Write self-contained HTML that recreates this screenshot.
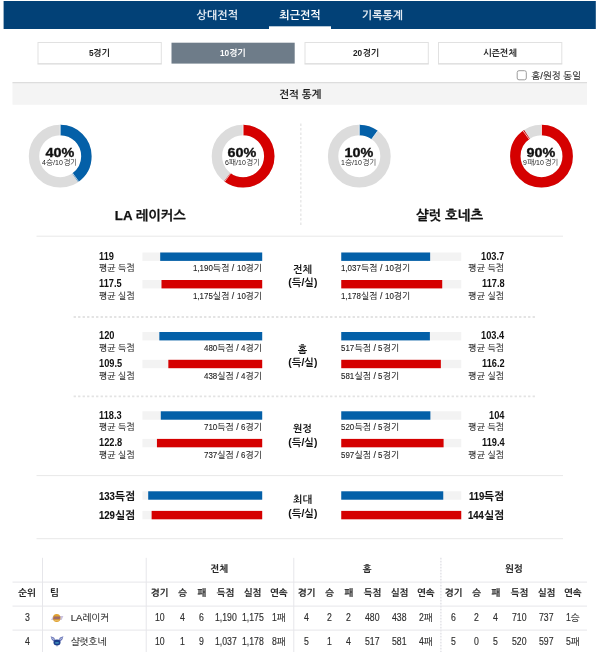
<!DOCTYPE html>
<html lang="ko"><head><meta charset="utf-8"><title>전적 통계</title>
<style>html,body{margin:0;padding:0;background:#fff;}body{width:600px;height:652px;position:relative;overflow:hidden;font-family:"Liberation Sans","NanumGothic","Noto Sans CJK KR",sans-serif;}#shapes{position:absolute;left:0;top:0;}.t{position:absolute;white-space:nowrap;box-sizing:border-box;}.n{display:inline-block;transform-origin:0 50%;}</style>
</head><body>
<svg id="shapes" width="600" height="652" viewBox="0 0 600 652">
<rect x="3.6" y="1" width="592.2" height="28" fill="#024177" />
<rect x="269" y="26.3" width="62" height="2.7" fill="#ffffff" />
<rect x="38" y="42.5" width="123.3" height="21.2" fill="#fff" stroke="#e1e1e1" stroke-width="1"/>
<rect x="37.5" y="63.6" width="124.3" height="0.8" fill="#dadada" />
<rect x="171.5" y="42.7" width="123.2" height="20.9" fill="#6e7c89" />
<rect x="305" y="42.5" width="123.3" height="21.2" fill="#fff" stroke="#e1e1e1" stroke-width="1"/>
<rect x="304.5" y="63.6" width="124.3" height="0.8" fill="#dadada" />
<rect x="438.5" y="42.5" width="123.3" height="21.2" fill="#fff" stroke="#e1e1e1" stroke-width="1"/>
<rect x="438" y="63.6" width="124.3" height="0.8" fill="#dadada" />
<rect x="517.2" y="70.7" width="9.1" height="9.1" fill="#fff" stroke="#9c9c9c" stroke-width="1" rx="1.8"/>
<rect x="12.5" y="82.3" width="574.5" height="22.5" fill="#f4f4f4" />
<rect x="12.5" y="82.2" width="574.5" height="1" fill="#d6d6d6" />
<g transform="translate(60.2 156.2)"><circle r="26.2" fill="none" stroke="#dcdcdc" stroke-width="10.4"/><circle r="26.2" fill="none" stroke="#0460a8" stroke-width="10.4" stroke-dasharray="65.85 164.62" transform="rotate(-90)"/><path d="M0 -20.7 L0 -31.7 M12.17 16.75 L18.63 25.65" stroke="#fff" stroke-width="0.7" fill="none"/></g>
<g transform="translate(243.1 156.2)"><circle r="26.2" fill="none" stroke="#dcdcdc" stroke-width="10.4"/><circle r="26.2" fill="none" stroke="#d50000" stroke-width="10.4" stroke-dasharray="98.77 164.62" transform="rotate(-90)"/><path d="M0 -20.7 L0 -31.7 M-12.17 16.75 L-18.63 25.65" stroke="#fff" stroke-width="0.7" fill="none"/></g>
<g transform="translate(359.3 156.2)"><circle r="26.2" fill="none" stroke="#dcdcdc" stroke-width="10.4"/><circle r="26.2" fill="none" stroke="#0460a8" stroke-width="10.4" stroke-dasharray="16.46 164.62" transform="rotate(-90)"/><path d="M0 -20.7 L0 -31.7 M12.17 -16.75 L18.63 -25.65" stroke="#fff" stroke-width="0.7" fill="none"/></g>
<g transform="translate(541.5 156.2)"><circle r="26.2" fill="none" stroke="#dcdcdc" stroke-width="10.4"/><circle r="26.2" fill="none" stroke="#d50000" stroke-width="10.4" stroke-dasharray="148.16 164.62" transform="rotate(-90)"/><path d="M0 -20.7 L0 -31.7 M-12.17 -16.75 L-18.63 -25.65" stroke="#fff" stroke-width="0.7" fill="none"/></g>
<line x1="300.8" y1="123.6" x2="300.8" y2="225" stroke="#e8e8e8" stroke-width="1.5" stroke-dasharray="2.3 2.2"/>
<rect x="36.5" y="235.7" width="526.5" height="1" fill="#e8e8e8" />
<rect x="36.5" y="475.1" width="526.5" height="1" fill="#e8e8e8" />
<rect x="36.5" y="538.2" width="526.5" height="1" fill="#e8e8e8" />
<line x1="73.6" y1="317.0" x2="536" y2="317.0" stroke="#e3e3e3" stroke-width="1.8" stroke-dasharray="2.3 2.2"/>
<line x1="73.6" y1="396.3" x2="536" y2="396.3" stroke="#e3e3e3" stroke-width="1.8" stroke-dasharray="2.3 2.2"/>
<rect x="142.4" y="252.5" width="119.8" height="8.4" fill="#f3f3f3" />
<rect x="160.2" y="252.5" width="102" height="8.4" fill="#0460a8" />
<rect x="142.4" y="280" width="119.8" height="8.4" fill="#f3f3f3" />
<rect x="161.49" y="280" width="100.71" height="8.4" fill="#d50000" />
<rect x="341.25" y="252.5" width="120" height="8.4" fill="#f3f3f3" />
<rect x="341.25" y="252.5" width="88.89" height="8.4" fill="#0460a8" />
<rect x="341.25" y="280" width="120" height="8.4" fill="#f3f3f3" />
<rect x="341.25" y="280" width="100.97" height="8.4" fill="#d50000" />
<rect x="142.4" y="332" width="119.8" height="8.4" fill="#f3f3f3" />
<rect x="159.34" y="332" width="102.86" height="8.4" fill="#0460a8" />
<rect x="142.4" y="359.8" width="119.8" height="8.4" fill="#f3f3f3" />
<rect x="168.34" y="359.8" width="93.86" height="8.4" fill="#d50000" />
<rect x="341.25" y="332" width="120" height="8.4" fill="#f3f3f3" />
<rect x="341.25" y="332" width="88.63" height="8.4" fill="#0460a8" />
<rect x="341.25" y="359.8" width="120" height="8.4" fill="#f3f3f3" />
<rect x="341.25" y="359.8" width="99.6" height="8.4" fill="#d50000" />
<rect x="142.4" y="411.3" width="119.8" height="8.4" fill="#f3f3f3" />
<rect x="160.8" y="411.3" width="101.4" height="8.4" fill="#0460a8" />
<rect x="142.4" y="438.9" width="119.8" height="8.4" fill="#f3f3f3" />
<rect x="156.94" y="438.9" width="105.26" height="8.4" fill="#d50000" />
<rect x="341.25" y="411.3" width="120" height="8.4" fill="#f3f3f3" />
<rect x="341.25" y="411.3" width="89.14" height="8.4" fill="#0460a8" />
<rect x="341.25" y="438.9" width="120" height="8.4" fill="#f3f3f3" />
<rect x="341.25" y="438.9" width="102.34" height="8.4" fill="#d50000" />
<rect x="142.4" y="491.3" width="119.8" height="8.4" fill="#f3f3f3" />
<rect x="148.2" y="491.3" width="114" height="8.4" fill="#0460a8" />
<rect x="341.25" y="491.3" width="120" height="8.4" fill="#f3f3f3" />
<rect x="341.25" y="491.3" width="102" height="8.4" fill="#0460a8" />
<rect x="142.4" y="510.9" width="119.8" height="8.4" fill="#f3f3f3" />
<rect x="151.63" y="510.9" width="110.57" height="8.4" fill="#d50000" />
<rect x="341.25" y="510.9" width="120" height="8.4" fill="#f3f3f3" />
<rect x="341.25" y="510.9" width="120" height="8.4" fill="#d50000" />
<rect x="42" y="557.8" width="1" height="95" fill="#e6e6ea" />
<rect x="145.7" y="557.8" width="1" height="95" fill="#e6e6ea" />
<rect x="293.3" y="557.8" width="1" height="95" fill="#e6e6ea" />
<line x1="440.9" y1="557.8" x2="440.9" y2="652" stroke="#dcdce2" stroke-width="1.2" stroke-dasharray="1.6 1.4"/>
<rect x="12.5" y="581.6" width="574.5" height="1" fill="#e6e6ea" />
<rect x="12.5" y="605.6" width="574.5" height="1" fill="#e6e6ea" />
<rect x="12.5" y="629.6" width="574.5" height="1" fill="#e6e6ea" />
<g transform="translate(49 611)"><path d="M2.0 9.0 L4.2 5.0 L14.4 5.0 L12.6 9.0 Z" fill="#8a78b8" opacity="0.45"/><ellipse cx="7.7" cy="6.9" rx="3.75" ry="4.0" fill="#e0a230"/><path d="M4.1 8.3 L4.9 5.6 L11.3 5.6 L10.7 8.3 Z" fill="#6a3f9a" opacity="0.55"/><path d="M5.4 9.6 L9.8 9.6" stroke="#f3d9a0" stroke-width="0.7" opacity="0.7"/></g>
<g transform="translate(49 634)"><path d="M1.6 2.2 L5.0 3.6 L6.6 6.2 L4.6 7.6 L2.6 5.6 Z" fill="#4a55a8" opacity="0.8"/><path d="M14.4 2.2 L11.0 3.6 L9.4 6.2 L11.4 7.6 L13.4 5.6 Z" fill="#4a55a8" opacity="0.8"/><path d="M3.0 3.7 L5.2 5.9" stroke="#d5e6f2" stroke-width="0.9" opacity="0.9"/><path d="M13.0 3.7 L10.8 5.9" stroke="#d5e6f2" stroke-width="0.9" opacity="0.9"/><ellipse cx="8" cy="8.4" rx="3.5" ry="2.9" fill="#1c3d8c"/><ellipse cx="8" cy="8.9" rx="2.2" ry="0.8" fill="#4fb0cc" opacity="0.7"/><path d="M7.3 11.1 L8.7 11.1 L8 12.9 Z" fill="#2a3f86" opacity="0.7"/></g>
</svg>
<div class="t" style="top:8.3px;height:15.4px;line-height:15.4px;font-size:11px;color:#e4ebf3;font-weight:bold;left:67.3px;width:300px;text-align:center;">상대전적</div>
<div class="t" style="top:8.3px;height:15.4px;line-height:15.4px;font-size:11px;color:#ffffff;font-weight:bold;left:150px;width:300px;text-align:center;">최근전적</div>
<div class="t" style="top:8.3px;height:15.4px;line-height:15.4px;font-size:11px;color:#e4ebf3;font-weight:bold;left:232.5px;width:300px;text-align:center;">기록통계</div>
<div class="t" style="top:46.9px;height:12.6px;line-height:12.6px;font-size:9px;color:#222;font-weight:bold;left:-50.5px;width:300px;text-align:center;"><span class="n" style="transform:scaleX(0.92);margin-right:-0.4px">5</span>경기</div>
<div class="t" style="top:46.9px;height:12.6px;line-height:12.6px;font-size:9px;color:#fff;font-weight:bold;left:83px;width:300px;text-align:center;"><span class="n" style="transform:scaleX(0.92);margin-right:-0.8px">10</span>경기</div>
<div class="t" style="top:46.9px;height:12.6px;line-height:12.6px;font-size:9px;color:#222;font-weight:bold;left:216.5px;width:300px;text-align:center;"><span class="n" style="transform:scaleX(0.92);margin-right:-0.8px">20</span>경기</div>
<div class="t" style="top:46.9px;height:12.6px;line-height:12.6px;font-size:9px;color:#222;font-weight:bold;left:350px;width:300px;text-align:center;">시즌전체</div>
<div class="t" style="top:68.72px;height:13.16px;line-height:13.16px;font-size:9.4px;color:#2a2a2a;left:531.5px;-webkit-text-stroke:0.15px #2a2a2a;">홈/원정 동일</div>
<div class="t" style="top:87.15px;height:14.7px;line-height:14.7px;font-size:10.5px;color:#1c1c1c;font-weight:bold;left:150.2px;width:300px;text-align:center;">전적 통계</div>
<div class="t" style="top:145.1px;height:16.8px;line-height:16.8px;font-size:12px;color:#111;font-weight:bold;left:-90.5px;width:300px;text-align:center;transform:scaleX(1.2);-webkit-text-stroke:0.3px #111;">40%</div>
<div class="t" style="top:158.48px;height:10.64px;line-height:10.64px;font-size:7.6px;color:#222;left:-90.4px;width:300px;text-align:center;"><span class="n" style="transform:scaleX(0.92);margin-right:-0.34px">4</span>승/<span class="n" style="transform:scaleX(0.92);margin-right:-0.68px">10</span>경기</div>
<div class="t" style="top:145.1px;height:16.8px;line-height:16.8px;font-size:12px;color:#111;font-weight:bold;left:92.4px;width:300px;text-align:center;transform:scaleX(1.2);-webkit-text-stroke:0.3px #111;">60%</div>
<div class="t" style="top:158.48px;height:10.64px;line-height:10.64px;font-size:7.6px;color:#222;left:92.5px;width:300px;text-align:center;"><span class="n" style="transform:scaleX(0.92);margin-right:-0.34px">6</span>패/<span class="n" style="transform:scaleX(0.92);margin-right:-0.68px">10</span>경기</div>
<div class="t" style="top:145.1px;height:16.8px;line-height:16.8px;font-size:12px;color:#111;font-weight:bold;left:208.6px;width:300px;text-align:center;transform:scaleX(1.2);-webkit-text-stroke:0.3px #111;">10%</div>
<div class="t" style="top:158.48px;height:10.64px;line-height:10.64px;font-size:7.6px;color:#222;left:208.7px;width:300px;text-align:center;"><span class="n" style="transform:scaleX(0.92);margin-right:-0.34px">1</span>승/<span class="n" style="transform:scaleX(0.92);margin-right:-0.68px">10</span>경기</div>
<div class="t" style="top:145.1px;height:16.8px;line-height:16.8px;font-size:12px;color:#111;font-weight:bold;left:390.8px;width:300px;text-align:center;transform:scaleX(1.2);-webkit-text-stroke:0.3px #111;">90%</div>
<div class="t" style="top:158.48px;height:10.64px;line-height:10.64px;font-size:7.6px;color:#222;left:390.9px;width:300px;text-align:center;"><span class="n" style="transform:scaleX(0.92);margin-right:-0.34px">9</span>패/<span class="n" style="transform:scaleX(0.92);margin-right:-0.68px">10</span>경기</div>
<div class="t" style="top:207.09px;height:18.62px;line-height:18.62px;font-size:13.3px;color:#111;font-weight:bold;left:0.3px;width:300px;text-align:center;-webkit-text-stroke:0.25px #111;">LA 레이커스</div>
<div class="t" style="top:206.95px;height:18.9px;line-height:18.9px;font-size:13.5px;color:#111;font-weight:bold;left:299.5px;width:300px;text-align:center;-webkit-text-stroke:0.25px #111;">샬럿 호네츠</div>
<div class="t" style="top:249.72px;height:14.56px;line-height:14.56px;font-size:10.4px;color:#111;font-weight:bold;left:98.9px;"><span class="n" style="transform:scaleX(0.89);margin-right:-1.91px">119</span></div>
<div class="t" style="top:262.27px;height:12.46px;line-height:12.46px;font-size:8.9px;color:#222;left:98.9px;-webkit-text-stroke:0.12px #222;">평균 득점</div>
<div class="t" style="top:262.34px;height:12.32px;line-height:12.32px;font-size:8.8px;color:#222;right:337.9px;text-align:right;-webkit-text-stroke:0.12px #222;"><span class="n" style="transform:scaleX(0.9);margin-right:-2.2px">1,190</span>득점 / <span class="n" style="transform:scaleX(0.9);margin-right:-0.98px">10</span>경기</div>
<div class="t" style="top:277.22px;height:14.56px;line-height:14.56px;font-size:10.4px;color:#111;font-weight:bold;left:98.9px;"><span class="n" style="transform:scaleX(0.89);margin-right:-2.86px">117.5</span></div>
<div class="t" style="top:289.77px;height:12.46px;line-height:12.46px;font-size:8.9px;color:#222;left:98.9px;-webkit-text-stroke:0.12px #222;">평균 실점</div>
<div class="t" style="top:289.84px;height:12.32px;line-height:12.32px;font-size:8.8px;color:#222;right:337.9px;text-align:right;-webkit-text-stroke:0.12px #222;"><span class="n" style="transform:scaleX(0.9);margin-right:-2.2px">1,175</span>실점 / <span class="n" style="transform:scaleX(0.9);margin-right:-0.98px">10</span>경기</div>
<div class="t" style="top:249.72px;height:14.56px;line-height:14.56px;font-size:10.4px;color:#111;font-weight:bold;right:95.7px;text-align:right;"><span class="n" style="transform:scaleX(0.89);margin-right:-2.86px">103.7</span></div>
<div class="t" style="top:262.27px;height:12.46px;line-height:12.46px;font-size:8.9px;color:#222;right:95.8px;text-align:right;-webkit-text-stroke:0.12px #222;">평균 득점</div>
<div class="t" style="top:262.34px;height:12.32px;line-height:12.32px;font-size:8.8px;color:#222;left:341.2px;-webkit-text-stroke:0.12px #222;"><span class="n" style="transform:scaleX(0.9);margin-right:-2.2px">1,037</span>득점 / <span class="n" style="transform:scaleX(0.9);margin-right:-0.98px">10</span>경기</div>
<div class="t" style="top:277.22px;height:14.56px;line-height:14.56px;font-size:10.4px;color:#111;font-weight:bold;right:95.7px;text-align:right;"><span class="n" style="transform:scaleX(0.89);margin-right:-2.86px">117.8</span></div>
<div class="t" style="top:289.77px;height:12.46px;line-height:12.46px;font-size:8.9px;color:#222;right:95.8px;text-align:right;-webkit-text-stroke:0.12px #222;">평균 실점</div>
<div class="t" style="top:289.84px;height:12.32px;line-height:12.32px;font-size:8.8px;color:#222;left:341.2px;-webkit-text-stroke:0.12px #222;"><span class="n" style="transform:scaleX(0.9);margin-right:-2.2px">1,178</span>실점 / <span class="n" style="transform:scaleX(0.9);margin-right:-0.98px">10</span>경기</div>
<div class="t" style="top:263.2px;height:14px;line-height:14px;font-size:10px;color:#111;font-weight:bold;left:152.5px;width:300px;text-align:center;">전체</div>
<div class="t" style="top:276.39px;height:14.42px;line-height:14.42px;font-size:10.3px;color:#111;font-weight:bold;left:152.9px;width:300px;text-align:center;">(득/실)</div>
<div class="t" style="top:329.22px;height:14.56px;line-height:14.56px;font-size:10.4px;color:#111;font-weight:bold;left:98.9px;"><span class="n" style="transform:scaleX(0.89);margin-right:-1.91px">120</span></div>
<div class="t" style="top:341.77px;height:12.46px;line-height:12.46px;font-size:8.9px;color:#222;left:98.9px;-webkit-text-stroke:0.12px #222;">평균 득점</div>
<div class="t" style="top:341.84px;height:12.32px;line-height:12.32px;font-size:8.8px;color:#222;right:337.9px;text-align:right;-webkit-text-stroke:0.12px #222;"><span class="n" style="transform:scaleX(0.9);margin-right:-1.47px">480</span>득점 / <span class="n" style="transform:scaleX(0.9);margin-right:-0.49px">4</span>경기</div>
<div class="t" style="top:357.02px;height:14.56px;line-height:14.56px;font-size:10.4px;color:#111;font-weight:bold;left:98.9px;"><span class="n" style="transform:scaleX(0.89);margin-right:-2.86px">109.5</span></div>
<div class="t" style="top:369.57px;height:12.46px;line-height:12.46px;font-size:8.9px;color:#222;left:98.9px;-webkit-text-stroke:0.12px #222;">평균 실점</div>
<div class="t" style="top:369.64px;height:12.32px;line-height:12.32px;font-size:8.8px;color:#222;right:337.9px;text-align:right;-webkit-text-stroke:0.12px #222;"><span class="n" style="transform:scaleX(0.9);margin-right:-1.47px">438</span>실점 / <span class="n" style="transform:scaleX(0.9);margin-right:-0.49px">4</span>경기</div>
<div class="t" style="top:329.22px;height:14.56px;line-height:14.56px;font-size:10.4px;color:#111;font-weight:bold;right:95.7px;text-align:right;"><span class="n" style="transform:scaleX(0.89);margin-right:-2.86px">103.4</span></div>
<div class="t" style="top:341.77px;height:12.46px;line-height:12.46px;font-size:8.9px;color:#222;right:95.8px;text-align:right;-webkit-text-stroke:0.12px #222;">평균 득점</div>
<div class="t" style="top:341.84px;height:12.32px;line-height:12.32px;font-size:8.8px;color:#222;left:341.2px;-webkit-text-stroke:0.12px #222;"><span class="n" style="transform:scaleX(0.9);margin-right:-1.47px">517</span>득점 / <span class="n" style="transform:scaleX(0.9);margin-right:-0.49px">5</span>경기</div>
<div class="t" style="top:357.02px;height:14.56px;line-height:14.56px;font-size:10.4px;color:#111;font-weight:bold;right:95.7px;text-align:right;"><span class="n" style="transform:scaleX(0.89);margin-right:-2.86px">116.2</span></div>
<div class="t" style="top:369.57px;height:12.46px;line-height:12.46px;font-size:8.9px;color:#222;right:95.8px;text-align:right;-webkit-text-stroke:0.12px #222;">평균 실점</div>
<div class="t" style="top:369.64px;height:12.32px;line-height:12.32px;font-size:8.8px;color:#222;left:341.2px;-webkit-text-stroke:0.12px #222;"><span class="n" style="transform:scaleX(0.9);margin-right:-1.47px">581</span>실점 / <span class="n" style="transform:scaleX(0.9);margin-right:-0.49px">5</span>경기</div>
<div class="t" style="top:343.2px;height:14px;line-height:14px;font-size:10px;color:#111;font-weight:bold;left:152.5px;width:300px;text-align:center;">홈</div>
<div class="t" style="top:356.49px;height:14.42px;line-height:14.42px;font-size:10.3px;color:#111;font-weight:bold;left:152.9px;width:300px;text-align:center;">(득/실)</div>
<div class="t" style="top:408.52px;height:14.56px;line-height:14.56px;font-size:10.4px;color:#111;font-weight:bold;left:98.9px;"><span class="n" style="transform:scaleX(0.89);margin-right:-2.86px">118.3</span></div>
<div class="t" style="top:421.07px;height:12.46px;line-height:12.46px;font-size:8.9px;color:#222;left:98.9px;-webkit-text-stroke:0.12px #222;">평균 득점</div>
<div class="t" style="top:421.14px;height:12.32px;line-height:12.32px;font-size:8.8px;color:#222;right:337.9px;text-align:right;-webkit-text-stroke:0.12px #222;"><span class="n" style="transform:scaleX(0.9);margin-right:-1.47px">710</span>득점 / <span class="n" style="transform:scaleX(0.9);margin-right:-0.49px">6</span>경기</div>
<div class="t" style="top:436.12px;height:14.56px;line-height:14.56px;font-size:10.4px;color:#111;font-weight:bold;left:98.9px;"><span class="n" style="transform:scaleX(0.89);margin-right:-2.86px">122.8</span></div>
<div class="t" style="top:448.67px;height:12.46px;line-height:12.46px;font-size:8.9px;color:#222;left:98.9px;-webkit-text-stroke:0.12px #222;">평균 실점</div>
<div class="t" style="top:448.74px;height:12.32px;line-height:12.32px;font-size:8.8px;color:#222;right:337.9px;text-align:right;-webkit-text-stroke:0.12px #222;"><span class="n" style="transform:scaleX(0.9);margin-right:-1.47px">737</span>실점 / <span class="n" style="transform:scaleX(0.9);margin-right:-0.49px">6</span>경기</div>
<div class="t" style="top:408.52px;height:14.56px;line-height:14.56px;font-size:10.4px;color:#111;font-weight:bold;right:95.7px;text-align:right;"><span class="n" style="transform:scaleX(0.89);margin-right:-1.91px">104</span></div>
<div class="t" style="top:421.07px;height:12.46px;line-height:12.46px;font-size:8.9px;color:#222;right:95.8px;text-align:right;-webkit-text-stroke:0.12px #222;">평균 득점</div>
<div class="t" style="top:421.14px;height:12.32px;line-height:12.32px;font-size:8.8px;color:#222;left:341.2px;-webkit-text-stroke:0.12px #222;"><span class="n" style="transform:scaleX(0.9);margin-right:-1.47px">520</span>득점 / <span class="n" style="transform:scaleX(0.9);margin-right:-0.49px">5</span>경기</div>
<div class="t" style="top:436.12px;height:14.56px;line-height:14.56px;font-size:10.4px;color:#111;font-weight:bold;right:95.7px;text-align:right;"><span class="n" style="transform:scaleX(0.89);margin-right:-2.86px">119.4</span></div>
<div class="t" style="top:448.67px;height:12.46px;line-height:12.46px;font-size:8.9px;color:#222;right:95.8px;text-align:right;-webkit-text-stroke:0.12px #222;">평균 실점</div>
<div class="t" style="top:448.74px;height:12.32px;line-height:12.32px;font-size:8.8px;color:#222;left:341.2px;-webkit-text-stroke:0.12px #222;"><span class="n" style="transform:scaleX(0.9);margin-right:-1.47px">597</span>실점 / <span class="n" style="transform:scaleX(0.9);margin-right:-0.49px">5</span>경기</div>
<div class="t" style="top:421.5px;height:14px;line-height:14px;font-size:10px;color:#111;font-weight:bold;left:152.5px;width:300px;text-align:center;">원정</div>
<div class="t" style="top:435.99px;height:14.42px;line-height:14.42px;font-size:10.3px;color:#111;font-weight:bold;left:152.9px;width:300px;text-align:center;">(득/실)</div>
<div class="t" style="top:488.88px;height:14.84px;line-height:14.84px;font-size:10.6px;color:#111;font-weight:bold;left:99.2px;-webkit-text-stroke:0.15px #111;"><span class="n" style="transform:scaleX(0.9);margin-right:-1.77px">133</span>득점</div>
<div class="t" style="top:488.88px;height:14.84px;line-height:14.84px;font-size:10.6px;color:#111;font-weight:bold;right:96.1px;text-align:right;-webkit-text-stroke:0.15px #111;"><span class="n" style="transform:scaleX(0.9);margin-right:-1.77px">119</span>득점</div>
<div class="t" style="top:508.48px;height:14.84px;line-height:14.84px;font-size:10.6px;color:#111;font-weight:bold;left:99.2px;-webkit-text-stroke:0.15px #111;"><span class="n" style="transform:scaleX(0.9);margin-right:-1.77px">129</span>실점</div>
<div class="t" style="top:508.48px;height:14.84px;line-height:14.84px;font-size:10.6px;color:#111;font-weight:bold;right:96.1px;text-align:right;-webkit-text-stroke:0.15px #111;"><span class="n" style="transform:scaleX(0.9);margin-right:-1.77px">144</span>실점</div>
<div class="t" style="top:493px;height:14px;line-height:14px;font-size:10px;color:#111;font-weight:bold;left:152.5px;width:300px;text-align:center;">최대</div>
<div class="t" style="top:506.99px;height:14.42px;line-height:14.42px;font-size:10.3px;color:#111;font-weight:bold;left:152.9px;width:300px;text-align:center;">(득/실)</div>
<div class="t" style="top:586.79px;height:13.02px;line-height:13.02px;font-size:9.3px;color:#262626;font-weight:bold;left:-123px;width:300px;text-align:center;-webkit-text-stroke:0.12px #262626;">순위</div>
<div class="t" style="top:586.79px;height:13.02px;line-height:13.02px;font-size:9.3px;color:#262626;font-weight:bold;left:50px;-webkit-text-stroke:0.12px #262626;">팀</div>
<div class="t" style="top:562.99px;height:13.02px;line-height:13.02px;font-size:9.3px;color:#262626;font-weight:bold;left:69.5px;width:300px;text-align:center;-webkit-text-stroke:0.12px #262626;">전체</div>
<div class="t" style="top:586.79px;height:13.02px;line-height:13.02px;font-size:9.3px;color:#262626;font-weight:bold;left:9.5px;width:300px;text-align:center;-webkit-text-stroke:0.12px #262626;">경기</div>
<div class="t" style="top:586.79px;height:13.02px;line-height:13.02px;font-size:9.3px;color:#262626;font-weight:bold;left:32.5px;width:300px;text-align:center;-webkit-text-stroke:0.12px #262626;">승</div>
<div class="t" style="top:586.79px;height:13.02px;line-height:13.02px;font-size:9.3px;color:#262626;font-weight:bold;left:51.75px;width:300px;text-align:center;-webkit-text-stroke:0.12px #262626;">패</div>
<div class="t" style="top:586.79px;height:13.02px;line-height:13.02px;font-size:9.3px;color:#262626;font-weight:bold;left:75.5px;width:300px;text-align:center;-webkit-text-stroke:0.12px #262626;">득점</div>
<div class="t" style="top:586.79px;height:13.02px;line-height:13.02px;font-size:9.3px;color:#262626;font-weight:bold;left:102.5px;width:300px;text-align:center;-webkit-text-stroke:0.12px #262626;">실점</div>
<div class="t" style="top:586.79px;height:13.02px;line-height:13.02px;font-size:9.3px;color:#262626;font-weight:bold;left:128.75px;width:300px;text-align:center;-webkit-text-stroke:0.12px #262626;">연속</div>
<div class="t" style="top:611.15px;height:13.3px;line-height:13.3px;font-size:9.5px;color:#2e2e2e;left:9.5px;width:300px;text-align:center;-webkit-text-stroke:0.15px #2e2e2e;"><span class="n" style="font-size:10.0px;transform:scaleX(0.87);margin-right:-1.45px">10</span></div>
<div class="t" style="top:611.15px;height:13.3px;line-height:13.3px;font-size:9.5px;color:#2e2e2e;left:32.5px;width:300px;text-align:center;-webkit-text-stroke:0.15px #2e2e2e;"><span class="n" style="font-size:10.0px;transform:scaleX(0.87);margin-right:-0.72px">4</span></div>
<div class="t" style="top:611.15px;height:13.3px;line-height:13.3px;font-size:9.5px;color:#2e2e2e;left:51.75px;width:300px;text-align:center;-webkit-text-stroke:0.15px #2e2e2e;"><span class="n" style="font-size:10.0px;transform:scaleX(0.87);margin-right:-0.72px">6</span></div>
<div class="t" style="top:611.15px;height:13.3px;line-height:13.3px;font-size:9.5px;color:#2e2e2e;left:75.5px;width:300px;text-align:center;-webkit-text-stroke:0.15px #2e2e2e;"><span class="n" style="font-size:10.0px;transform:scaleX(0.87);margin-right:-3.25px">1,190</span></div>
<div class="t" style="top:611.15px;height:13.3px;line-height:13.3px;font-size:9.5px;color:#2e2e2e;left:102.5px;width:300px;text-align:center;-webkit-text-stroke:0.15px #2e2e2e;"><span class="n" style="font-size:10.0px;transform:scaleX(0.87);margin-right:-3.25px">1,175</span></div>
<div class="t" style="top:611.15px;height:13.3px;line-height:13.3px;font-size:9.5px;color:#2e2e2e;left:128.75px;width:300px;text-align:center;-webkit-text-stroke:0.15px #2e2e2e;"><span class="n" style="font-size:10.0px;transform:scaleX(0.87);margin-right:-0.72px">1</span>패</div>
<div class="t" style="top:635.15px;height:13.3px;line-height:13.3px;font-size:9.5px;color:#2e2e2e;left:9.5px;width:300px;text-align:center;-webkit-text-stroke:0.15px #2e2e2e;"><span class="n" style="font-size:10.0px;transform:scaleX(0.87);margin-right:-1.45px">10</span></div>
<div class="t" style="top:635.15px;height:13.3px;line-height:13.3px;font-size:9.5px;color:#2e2e2e;left:32.5px;width:300px;text-align:center;-webkit-text-stroke:0.15px #2e2e2e;"><span class="n" style="font-size:10.0px;transform:scaleX(0.87);margin-right:-0.72px">1</span></div>
<div class="t" style="top:635.15px;height:13.3px;line-height:13.3px;font-size:9.5px;color:#2e2e2e;left:51.75px;width:300px;text-align:center;-webkit-text-stroke:0.15px #2e2e2e;"><span class="n" style="font-size:10.0px;transform:scaleX(0.87);margin-right:-0.72px">9</span></div>
<div class="t" style="top:635.15px;height:13.3px;line-height:13.3px;font-size:9.5px;color:#2e2e2e;left:75.5px;width:300px;text-align:center;-webkit-text-stroke:0.15px #2e2e2e;"><span class="n" style="font-size:10.0px;transform:scaleX(0.87);margin-right:-3.25px">1,037</span></div>
<div class="t" style="top:635.15px;height:13.3px;line-height:13.3px;font-size:9.5px;color:#2e2e2e;left:102.5px;width:300px;text-align:center;-webkit-text-stroke:0.15px #2e2e2e;"><span class="n" style="font-size:10.0px;transform:scaleX(0.87);margin-right:-3.25px">1,178</span></div>
<div class="t" style="top:635.15px;height:13.3px;line-height:13.3px;font-size:9.5px;color:#2e2e2e;left:128.75px;width:300px;text-align:center;-webkit-text-stroke:0.15px #2e2e2e;"><span class="n" style="font-size:10.0px;transform:scaleX(0.87);margin-right:-0.72px">8</span>패</div>
<div class="t" style="top:562.99px;height:13.02px;line-height:13.02px;font-size:9.3px;color:#262626;font-weight:bold;left:217px;width:300px;text-align:center;-webkit-text-stroke:0.12px #262626;">홈</div>
<div class="t" style="top:586.79px;height:13.02px;line-height:13.02px;font-size:9.3px;color:#262626;font-weight:bold;left:156.5px;width:300px;text-align:center;-webkit-text-stroke:0.12px #262626;">경기</div>
<div class="t" style="top:586.79px;height:13.02px;line-height:13.02px;font-size:9.3px;color:#262626;font-weight:bold;left:179.5px;width:300px;text-align:center;-webkit-text-stroke:0.12px #262626;">승</div>
<div class="t" style="top:586.79px;height:13.02px;line-height:13.02px;font-size:9.3px;color:#262626;font-weight:bold;left:198.75px;width:300px;text-align:center;-webkit-text-stroke:0.12px #262626;">패</div>
<div class="t" style="top:586.79px;height:13.02px;line-height:13.02px;font-size:9.3px;color:#262626;font-weight:bold;left:222.5px;width:300px;text-align:center;-webkit-text-stroke:0.12px #262626;">득점</div>
<div class="t" style="top:586.79px;height:13.02px;line-height:13.02px;font-size:9.3px;color:#262626;font-weight:bold;left:249.5px;width:300px;text-align:center;-webkit-text-stroke:0.12px #262626;">실점</div>
<div class="t" style="top:586.79px;height:13.02px;line-height:13.02px;font-size:9.3px;color:#262626;font-weight:bold;left:275.75px;width:300px;text-align:center;-webkit-text-stroke:0.12px #262626;">연속</div>
<div class="t" style="top:611.15px;height:13.3px;line-height:13.3px;font-size:9.5px;color:#2e2e2e;left:156.5px;width:300px;text-align:center;-webkit-text-stroke:0.15px #2e2e2e;"><span class="n" style="font-size:10.0px;transform:scaleX(0.87);margin-right:-0.72px">4</span></div>
<div class="t" style="top:611.15px;height:13.3px;line-height:13.3px;font-size:9.5px;color:#2e2e2e;left:179.5px;width:300px;text-align:center;-webkit-text-stroke:0.15px #2e2e2e;"><span class="n" style="font-size:10.0px;transform:scaleX(0.87);margin-right:-0.72px">2</span></div>
<div class="t" style="top:611.15px;height:13.3px;line-height:13.3px;font-size:9.5px;color:#2e2e2e;left:198.75px;width:300px;text-align:center;-webkit-text-stroke:0.15px #2e2e2e;"><span class="n" style="font-size:10.0px;transform:scaleX(0.87);margin-right:-0.72px">2</span></div>
<div class="t" style="top:611.15px;height:13.3px;line-height:13.3px;font-size:9.5px;color:#2e2e2e;left:222.5px;width:300px;text-align:center;-webkit-text-stroke:0.15px #2e2e2e;"><span class="n" style="font-size:10.0px;transform:scaleX(0.87);margin-right:-2.17px">480</span></div>
<div class="t" style="top:611.15px;height:13.3px;line-height:13.3px;font-size:9.5px;color:#2e2e2e;left:249.5px;width:300px;text-align:center;-webkit-text-stroke:0.15px #2e2e2e;"><span class="n" style="font-size:10.0px;transform:scaleX(0.87);margin-right:-2.17px">438</span></div>
<div class="t" style="top:611.15px;height:13.3px;line-height:13.3px;font-size:9.5px;color:#2e2e2e;left:275.75px;width:300px;text-align:center;-webkit-text-stroke:0.15px #2e2e2e;"><span class="n" style="font-size:10.0px;transform:scaleX(0.87);margin-right:-0.72px">2</span>패</div>
<div class="t" style="top:635.15px;height:13.3px;line-height:13.3px;font-size:9.5px;color:#2e2e2e;left:156.5px;width:300px;text-align:center;-webkit-text-stroke:0.15px #2e2e2e;"><span class="n" style="font-size:10.0px;transform:scaleX(0.87);margin-right:-0.72px">5</span></div>
<div class="t" style="top:635.15px;height:13.3px;line-height:13.3px;font-size:9.5px;color:#2e2e2e;left:179.5px;width:300px;text-align:center;-webkit-text-stroke:0.15px #2e2e2e;"><span class="n" style="font-size:10.0px;transform:scaleX(0.87);margin-right:-0.72px">1</span></div>
<div class="t" style="top:635.15px;height:13.3px;line-height:13.3px;font-size:9.5px;color:#2e2e2e;left:198.75px;width:300px;text-align:center;-webkit-text-stroke:0.15px #2e2e2e;"><span class="n" style="font-size:10.0px;transform:scaleX(0.87);margin-right:-0.72px">4</span></div>
<div class="t" style="top:635.15px;height:13.3px;line-height:13.3px;font-size:9.5px;color:#2e2e2e;left:222.5px;width:300px;text-align:center;-webkit-text-stroke:0.15px #2e2e2e;"><span class="n" style="font-size:10.0px;transform:scaleX(0.87);margin-right:-2.17px">517</span></div>
<div class="t" style="top:635.15px;height:13.3px;line-height:13.3px;font-size:9.5px;color:#2e2e2e;left:249.5px;width:300px;text-align:center;-webkit-text-stroke:0.15px #2e2e2e;"><span class="n" style="font-size:10.0px;transform:scaleX(0.87);margin-right:-2.17px">581</span></div>
<div class="t" style="top:635.15px;height:13.3px;line-height:13.3px;font-size:9.5px;color:#2e2e2e;left:275.75px;width:300px;text-align:center;-webkit-text-stroke:0.15px #2e2e2e;"><span class="n" style="font-size:10.0px;transform:scaleX(0.87);margin-right:-0.72px">4</span>패</div>
<div class="t" style="top:562.99px;height:13.02px;line-height:13.02px;font-size:9.3px;color:#262626;font-weight:bold;left:363.7px;width:300px;text-align:center;-webkit-text-stroke:0.12px #262626;">원정</div>
<div class="t" style="top:586.79px;height:13.02px;line-height:13.02px;font-size:9.3px;color:#262626;font-weight:bold;left:303.5px;width:300px;text-align:center;-webkit-text-stroke:0.12px #262626;">경기</div>
<div class="t" style="top:586.79px;height:13.02px;line-height:13.02px;font-size:9.3px;color:#262626;font-weight:bold;left:326.5px;width:300px;text-align:center;-webkit-text-stroke:0.12px #262626;">승</div>
<div class="t" style="top:586.79px;height:13.02px;line-height:13.02px;font-size:9.3px;color:#262626;font-weight:bold;left:345.75px;width:300px;text-align:center;-webkit-text-stroke:0.12px #262626;">패</div>
<div class="t" style="top:586.79px;height:13.02px;line-height:13.02px;font-size:9.3px;color:#262626;font-weight:bold;left:369.5px;width:300px;text-align:center;-webkit-text-stroke:0.12px #262626;">득점</div>
<div class="t" style="top:586.79px;height:13.02px;line-height:13.02px;font-size:9.3px;color:#262626;font-weight:bold;left:396.5px;width:300px;text-align:center;-webkit-text-stroke:0.12px #262626;">실점</div>
<div class="t" style="top:586.79px;height:13.02px;line-height:13.02px;font-size:9.3px;color:#262626;font-weight:bold;left:422.75px;width:300px;text-align:center;-webkit-text-stroke:0.12px #262626;">연속</div>
<div class="t" style="top:611.15px;height:13.3px;line-height:13.3px;font-size:9.5px;color:#2e2e2e;left:303.5px;width:300px;text-align:center;-webkit-text-stroke:0.15px #2e2e2e;"><span class="n" style="font-size:10.0px;transform:scaleX(0.87);margin-right:-0.72px">6</span></div>
<div class="t" style="top:611.15px;height:13.3px;line-height:13.3px;font-size:9.5px;color:#2e2e2e;left:326.5px;width:300px;text-align:center;-webkit-text-stroke:0.15px #2e2e2e;"><span class="n" style="font-size:10.0px;transform:scaleX(0.87);margin-right:-0.72px">2</span></div>
<div class="t" style="top:611.15px;height:13.3px;line-height:13.3px;font-size:9.5px;color:#2e2e2e;left:345.75px;width:300px;text-align:center;-webkit-text-stroke:0.15px #2e2e2e;"><span class="n" style="font-size:10.0px;transform:scaleX(0.87);margin-right:-0.72px">4</span></div>
<div class="t" style="top:611.15px;height:13.3px;line-height:13.3px;font-size:9.5px;color:#2e2e2e;left:369.5px;width:300px;text-align:center;-webkit-text-stroke:0.15px #2e2e2e;"><span class="n" style="font-size:10.0px;transform:scaleX(0.87);margin-right:-2.17px">710</span></div>
<div class="t" style="top:611.15px;height:13.3px;line-height:13.3px;font-size:9.5px;color:#2e2e2e;left:396.5px;width:300px;text-align:center;-webkit-text-stroke:0.15px #2e2e2e;"><span class="n" style="font-size:10.0px;transform:scaleX(0.87);margin-right:-2.17px">737</span></div>
<div class="t" style="top:611.15px;height:13.3px;line-height:13.3px;font-size:9.5px;color:#2e2e2e;left:422.75px;width:300px;text-align:center;-webkit-text-stroke:0.15px #2e2e2e;"><span class="n" style="font-size:10.0px;transform:scaleX(0.87);margin-right:-0.72px">1</span>승</div>
<div class="t" style="top:635.15px;height:13.3px;line-height:13.3px;font-size:9.5px;color:#2e2e2e;left:303.5px;width:300px;text-align:center;-webkit-text-stroke:0.15px #2e2e2e;"><span class="n" style="font-size:10.0px;transform:scaleX(0.87);margin-right:-0.72px">5</span></div>
<div class="t" style="top:635.15px;height:13.3px;line-height:13.3px;font-size:9.5px;color:#2e2e2e;left:326.5px;width:300px;text-align:center;-webkit-text-stroke:0.15px #2e2e2e;"><span class="n" style="font-size:10.0px;transform:scaleX(0.87);margin-right:-0.72px">0</span></div>
<div class="t" style="top:635.15px;height:13.3px;line-height:13.3px;font-size:9.5px;color:#2e2e2e;left:345.75px;width:300px;text-align:center;-webkit-text-stroke:0.15px #2e2e2e;"><span class="n" style="font-size:10.0px;transform:scaleX(0.87);margin-right:-0.72px">5</span></div>
<div class="t" style="top:635.15px;height:13.3px;line-height:13.3px;font-size:9.5px;color:#2e2e2e;left:369.5px;width:300px;text-align:center;-webkit-text-stroke:0.15px #2e2e2e;"><span class="n" style="font-size:10.0px;transform:scaleX(0.87);margin-right:-2.17px">520</span></div>
<div class="t" style="top:635.15px;height:13.3px;line-height:13.3px;font-size:9.5px;color:#2e2e2e;left:396.5px;width:300px;text-align:center;-webkit-text-stroke:0.15px #2e2e2e;"><span class="n" style="font-size:10.0px;transform:scaleX(0.87);margin-right:-2.17px">597</span></div>
<div class="t" style="top:635.15px;height:13.3px;line-height:13.3px;font-size:9.5px;color:#2e2e2e;left:422.75px;width:300px;text-align:center;-webkit-text-stroke:0.15px #2e2e2e;"><span class="n" style="font-size:10.0px;transform:scaleX(0.87);margin-right:-0.72px">5</span>패</div>
<div class="t" style="top:611.15px;height:13.3px;line-height:13.3px;font-size:9.5px;color:#2e2e2e;left:-123px;width:300px;text-align:center;-webkit-text-stroke:0.15px #2e2e2e;"><span class="n" style="font-size:10.0px;transform:scaleX(0.87);margin-right:-0.72px">3</span></div>
<div class="t" style="top:610.95px;height:13.3px;line-height:13.3px;font-size:9.5px;color:#2e2e2e;left:70.7px;-webkit-text-stroke:0.15px #2e2e2e;">LA레이커</div>
<div class="t" style="top:635.15px;height:13.3px;line-height:13.3px;font-size:9.5px;color:#2e2e2e;left:-123px;width:300px;text-align:center;-webkit-text-stroke:0.15px #2e2e2e;"><span class="n" style="font-size:10.0px;transform:scaleX(0.87);margin-right:-0.72px">4</span></div>
<div class="t" style="top:634.95px;height:13.3px;line-height:13.3px;font-size:9.5px;color:#2e2e2e;left:70.7px;-webkit-text-stroke:0.15px #2e2e2e;">샬럿호네</div>
</body></html>
